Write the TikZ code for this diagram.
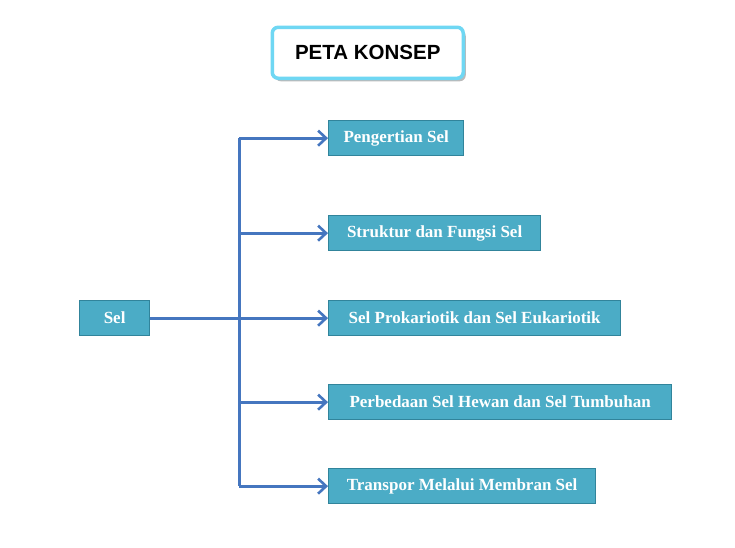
\documentclass[tikz,border=0pt]{standalone}
\usepackage{fontspec}
\setmainfont{Liberation Serif}
\setsansfont{Liberation Sans}
\usetikzlibrary{shadows,arrows.meta}
\definecolor{boxfill}{HTML}{4BACC6}
\definecolor{boxline}{HTML}{31849B}
\definecolor{conn}{HTML}{4576BF}
\definecolor{titleline}{HTML}{6FD7F3}
\begin{document}
\begin{tikzpicture}[x=1pt,y=-1pt,
  topic/.style={draw=boxline, line width=1.3pt, fill=boxfill, text=white,
    font=\fontsize{17}{19}\selectfont\bfseries, minimum height=35pt,
    inner sep=0pt, anchor=north west, align=center},
  link/.style={draw=conn, line width=3pt, -{Straight Barb[length=8pt,width=15pt,line width=2.6pt]}},
  trunk/.style={draw=conn, line width=3pt}
]
\useasboundingbox (0,0) rectangle (735,547);
\node[draw=titleline, line width=3.5pt, rounded corners=6pt, fill=white,
  drop shadow={shadow xshift=2.5pt, shadow yshift=-3pt, opacity=0.6, fill=black!45},
  minimum width=191pt, minimum height=51pt, anchor=north west,
  font=\sffamily\fontsize{20.5}{23}\selectfont\bfseries] (title) at (270.5,25.5) {PETA KONSEP};

\node[topic, minimum width=70pt] (sel) at (79,300) {Sel};
\node[topic, minimum width=135pt] (b1) at (328,120) {Pengertian Sel};
\node[topic, minimum width=212pt] (b2) at (328,215) {Struktur dan Fungsi Sel};
\node[topic, minimum width=292pt] (b3) at (328,300) {Sel Prokariotik dan Sel Eukariotik};
\node[topic, minimum width=343pt] (b4) at (328,384) {Perbedaan Sel Hewan dan Sel Tumbuhan};
\node[topic, minimum width=267pt] (b5) at (328,468) {Transpor Melalui Membran Sel};

\coordinate (j) at (239,317);
\draw[trunk] (j |- b1.west) -- (j |- b5.west);
\draw[link] (sel.east) -- (b3.west);
\draw[link] (j |- b1.west) -- (b1.west);
\draw[link] (j |- b2.west) -- (b2.west);
\draw[link] (j |- b4.west) -- (b4.west);
\draw[link] (j |- b5.west) -- (b5.west);
\end{tikzpicture}
\end{document}
